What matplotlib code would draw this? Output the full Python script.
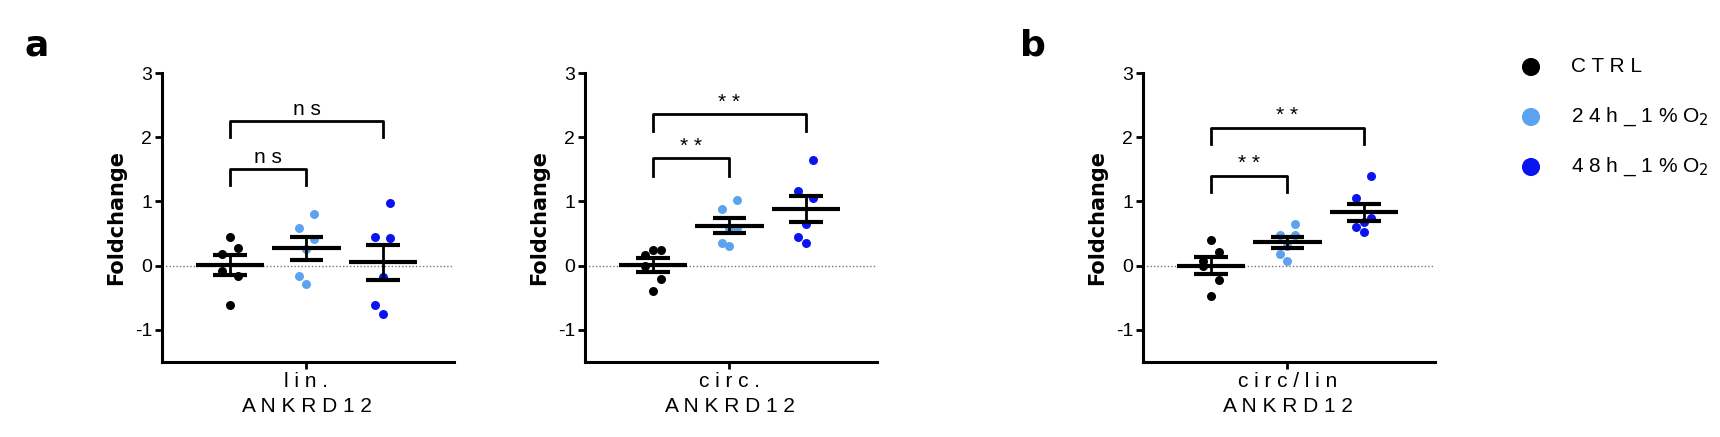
import numpy as np
import matplotlib
matplotlib.use("Agg")
import matplotlib.pyplot as plt
from matplotlib import font_manager

fams = [f.name for f in font_manager.fontManager.ttflist]
FONT = 'Liberation Sans Narrow' if 'Liberation Sans Narrow' in fams else 'Liberation Sans'
plt.rcParams['font.family'] = [FONT, 'DejaVu Sans']

groups = ['CTRL', '24 h_1% O$_2$', '48 h_1% O$_2$']
legend_labels = ['C T R L', '2 4 h _ 1 % O$_2$', '4 8 h _ 1 % O$_2$']
colors = ['#000000', '#5ba3f0', '#0a14f0']

lin_ctrl = [0.44, 0.28, 0.18, -0.08, -0.16, -0.61]
lin_24 = [0.81, 0.58, 0.41, 0.26, -0.16, -0.29]
lin_48 = [0.97, 0.45, 0.43, -0.17, -0.61, -0.76]

circ_ctrl = [0.24, 0.24, 0.17, 0.0, -0.20, -0.39]
circ_24 = [1.02, 0.88, 0.58, 0.58, 0.36, 0.30]
circ_48 = [1.65, 1.17, 1.06, 0.65, 0.44, 0.36]

ratio_ctrl = [0.40, 0.22, 0.08, 0.0, -0.22, -0.48]
ratio_24 = [0.65, 0.48, 0.48, 0.31, 0.18, 0.07]
ratio_48 = [1.40, 1.05, 0.74, 0.68, 0.60, 0.52]

xlabels = ['l i n .\nA N K R D 1 2', 'c i r c .\nA N K R D 1 2', 'c i r c / l i n\nA N K R D 1 2']
sig_labels = [['n s', 'n s'], ['* *', '* *'], ['* *', '* *']]
brackets = [[(1.25, 1.5), (2.0, 2.25)], [(1.4, 1.67), (2.1, 2.36)], [(1.15, 1.4), (1.9, 2.15)]]

panels = [[lin_ctrl, lin_24, lin_48], [circ_ctrl, circ_24, circ_48], [ratio_ctrl, ratio_24, ratio_48]]

W, H = 1720, 437
fig = plt.figure(figsize=(W/100, H/100), dpi=100)
lefts = [162, 585, 1143]
axw = 292
top, bot = 73, 362
xs = np.array([0, 1, 2])
for pi, (left, data) in enumerate(zip(lefts, panels)):
    ax = fig.add_axes([left/W, 1-bot/H, axw/W, (bot-top)/H])
    for gi, vals in enumerate(data):
        v = np.array(vals)
        offs = np.array([0.0, 0.22, -0.22, -0.22, 0.22, 0.0]) if gi == 0 else np.array([0.22, -0.22, 0.22, 0.0, -0.22, 0.0])
        ax.scatter(xs[gi] + offs*0.45, v, s=42, color=colors[gi], zorder=3, linewidths=0)
        m = v.mean(); se = v.std(ddof=1)/np.sqrt(len(v))
        ax.plot([gi-0.45, gi+0.45], [m, m], color='k', lw=3, zorder=4, solid_capstyle='butt')
        ax.plot([gi, gi], [m-se, m+se], color='k', lw=2, zorder=4)
        for yy in (m-se, m+se):
            ax.plot([gi-0.22, gi+0.22], [yy, yy], color='k', lw=3, zorder=4, solid_capstyle='butt')
    ax.axhline(0, color='#777777', lw=1, ls=(0, (1, 1.5)), zorder=1)
    for (b0, b1), lab, xe in zip(brackets[pi], sig_labels[pi], [1, 2]):
        ax.plot([0, 0, xe, xe], [b0, b1, b1, b0], color='k', lw=2)
        ax.text(xe/2, b1+0.04, lab, ha='center', va='bottom', fontsize=15)
    ax.set_xlim(-0.89, 2.93)
    ax.set_ylim(-1.5, 3)
    ax.set_yticks([-1, 0, 1, 2, 3])
    ax.set_yticklabels(['-1', '0', '1', '2', '3'], fontsize=14)
    ax.set_xticks([1])
    ax.set_xticklabels([xlabels[pi]], fontsize=15, linespacing=1.4)
    ax.set_ylabel('Foldchange', fontsize=15, fontweight='bold', family='DejaVu Sans', labelpad=6)
    for s in ['top', 'right']:
        ax.spines[s].set_visible(False)
    for s in ['left', 'bottom']:
        ax.spines[s].set_linewidth(2.2)
    ax.tick_params(width=2, length=5, pad=2)

fig.text(25/W, 1-45/H, 'a', fontsize=26, fontweight='bold', family='DejaVu Sans', va='center')
fig.text(1020/W, 1-45/H, 'b', fontsize=26, fontweight='bold', family='DejaVu Sans', va='center')

lax = fig.add_axes([0, 0, 1, 1])
lax.set_xlim(0, W); lax.set_ylim(H, 0); lax.axis('off')
lax.patch.set_alpha(0)
ly = [67, 117, 167]
lax.scatter([1531]*3, ly, s=170, color=colors, linewidths=0)
for y, lab in zip(ly, legend_labels):
    lax.text(1571, y, lab, fontsize=15, va='center')

fig.savefig('out.png', dpi=100)
